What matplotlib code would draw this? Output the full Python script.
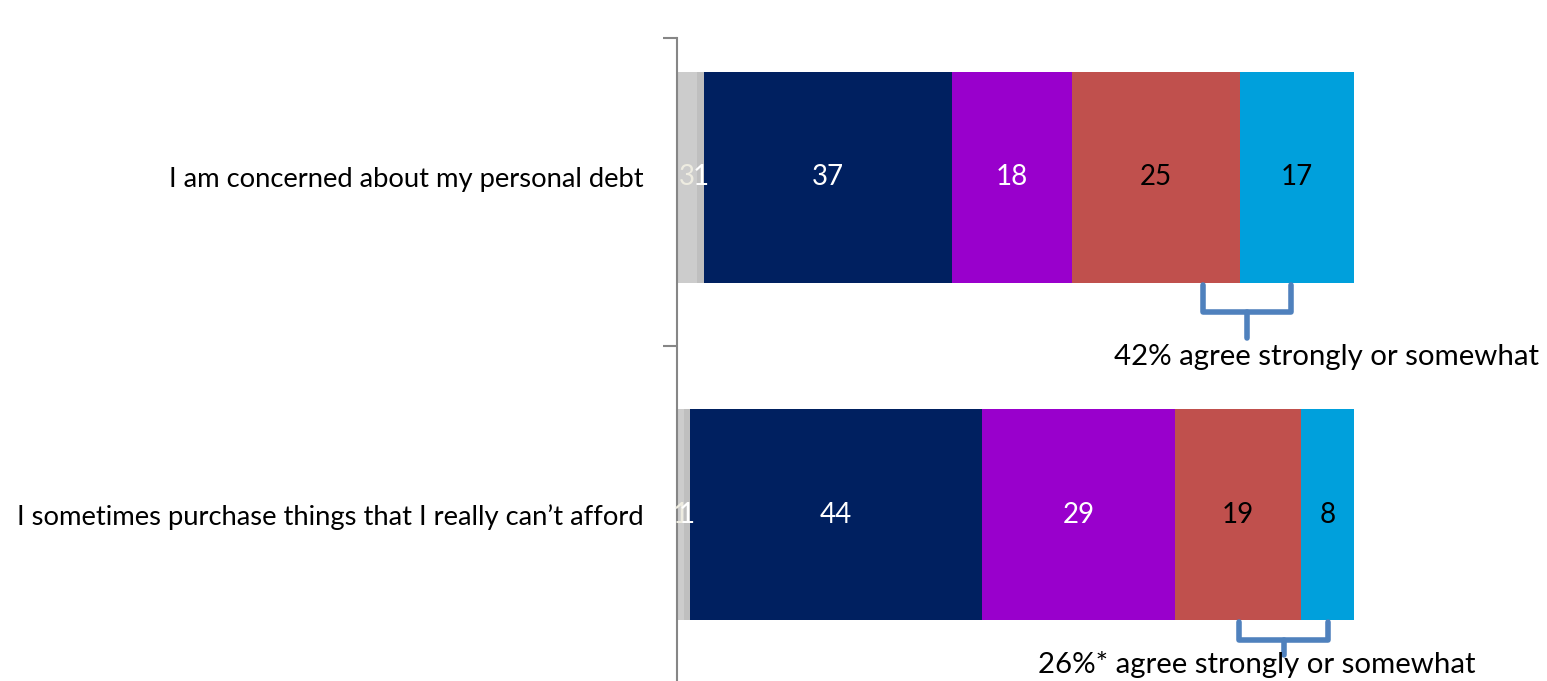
import matplotlib.pyplot as plt
import numpy as np

# Data
categories = ["I am concerned about my personal debt",
              "I sometimes purchase things that I really can\u2019t afford"]
segment_names = ["Don't know", "Refused", "Disagree strongly", "Disagree somewhat",
                 "Agree somewhat", "Agree strongly"]
values = [
    [3, 1, 37, 18, 25, 17],
    [1, 1, 44, 29, 19, 8],
]
agree_labels = ["42% agree strongly or somewhat", "26%* agree strongly or somewhat"]

colors = ["#cccccc", "#bfbfbf", "#002060", "#9900cc", "#c0504d", "#00a0dc"]
text_colors = ["#eeece1", "#ffffff", "#ffffff", "#ffffff", "#000000", "#000000"]

plt.rcParams['font.family'] = ['Lato', 'DejaVu Sans']

W, H = 1547, 681
fig = plt.figure(figsize=(W / 100, H / 100), dpi=100)
ax = fig.add_axes([677 / W, 0, (1354 - 677) / W, 1 - 38 / H])

vals = np.array(values, dtype=float)
shares = vals / vals.sum(axis=1, keepdims=True)
y = np.arange(len(categories))
bar_h = 0.625

left = np.zeros(len(categories))
for j in range(vals.shape[1]):
    ax.barh(y, shares[:, j], left=left, height=bar_h, color=colors[j], edgecolor="none")
    for i in range(len(categories)):
        ax.text(left[i] + shares[i, j] / 2, y[i], f"{int(vals[i, j])}",
                ha="center", va="center", fontsize=20, color=text_colors[j])
    left += shares[:, j]

ax.set_xlim(0, 1)
ax.set_ylim(1.492, -0.413)

# axis styling
for s in ["top", "right", "bottom"]:
    ax.spines[s].set_visible(False)
ax.spines["left"].set_color("#868686")
ax.spines["left"].set_linewidth(1.5)
ax.set_xticks([])
ax.set_yticks(y)
ax.set_yticklabels(categories, fontsize=19.7)
ax.tick_params(axis="y", which="major", length=0, pad=24)
ax.set_yticks([-0.413, 0.5], minor=True)
ax.tick_params(axis="y", which="minor", length=10, width=1.5, color="#868686")

# brackets
brackets = [
    (0.777, 0.907, 0.3185, 0.3985, 0.476),
    (0.830, 0.962, 1.317, 1.370, 1.415),
]
for (x0, x1, yt, ym, yb) in brackets:
    xm = (x0 + x1) / 2
    ax.plot([x0, x0, x1, x1], [yt, ym, ym, yt], color="#4f81bd", lw=4,
            solid_joinstyle="round", solid_capstyle="round", clip_on=False)
    ax.plot([xm, xm], [ym, yb], color="#4f81bd", lw=4,
            solid_capstyle="round", clip_on=False)

ax.text(0.959, 0.532, agree_labels[0], ha="center", va="center", fontsize=21.2,
        clip_on=False)
ax.text(0.856, 1.443, agree_labels[1], ha="center", va="center", fontsize=21.2,
        clip_on=False)

fig.savefig("out.png", dpi=100)
